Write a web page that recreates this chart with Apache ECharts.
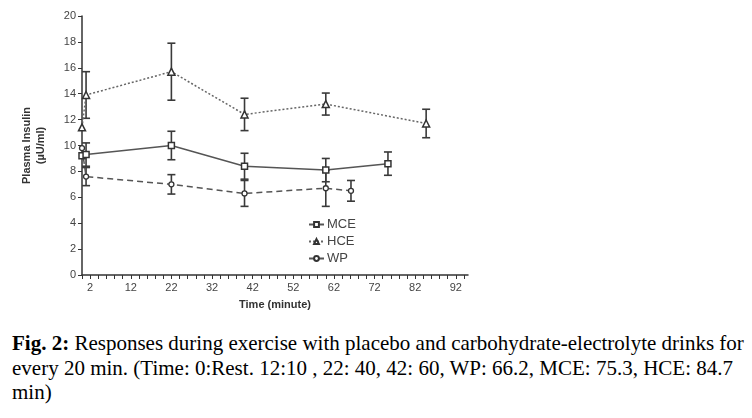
<!DOCTYPE html>
<html lang="en">
<head>
  <meta charset="UTF-8">
  <title>Plasma Insulin</title>
  <script src="https://cdn.jsdelivr.net/npm/echarts@6/dist/echarts.min.js"></script>
  <style>
    body { margin: 0; background: #fff; }
    #chart { position: absolute; left: 0; top: 0; width: 752px; height: 318px; }
    .caption {
      position: absolute; left: 12px; top: 331px; width: 740px;
      font-family: "Liberation Serif", serif; font-size: 21px; line-height: 24.5px; color: #000;
      white-space: nowrap;
    }
  </style>
</head>
<body>
  <div id="chart"></div>
  <div class="caption"><b>Fig. 2:</b> Responses during exercise with placebo and carbohydrate-electrolyte drinks for<br>every 20 min. (Time: 0:Rest. 12:10 , 22: 40, 42: 60, WP: 66.2, MCE: 75.3, HCE: 84.7<br>min)</div>

  <script>
    // values (x = minutes, y = µU/ml)
    const mceTime = [0, 1, 22, 40, 60, 75.3];
    const mceMean = [9.2, 9.3, 10.0, 8.4, 8.1, 8.6];
    const mceErr  = [0, 0.9, 1.1, 1.0, 0.9, 0.9];

    const hceTime = [0, 1, 22, 40, 60, 84.7];
    const hceMean = [11.4, 13.9, 15.7, 12.4, 13.2, 11.7];
    const hceErr  = [0, 1.8, 2.2, 1.25, 0.85, 1.1];

    const wpTime = [0, 1, 22, 40, 60, 66.2];
    const wpMean = [9.8, 7.6, 7.0, 6.3, 6.7, 6.5];
    const wpErr  = [0, 0.7, 0.75, 1.0, 1.4, 0.8];

    const xLabels = [2, 12, 22, 32, 42, 52, 62, 72, 82, 92];
    const xTicks = [];
    for (let t = 0; t <= 94; t += 2) xTicks.push(t);

    const pairs = (xs, ys) => xs.map((x, i) => [x, ys[i]]);
    const errRows = (xs, ys, es) => xs.map((x, i) => [x, ys[i] - es[i], ys[i] + es[i]]).filter((r, i) => es[i] > 0);

    function errorBar(params, api) {
      const lo = api.coord([api.value(0), api.value(1)]);
      const hi = api.coord([api.value(0), api.value(2)]);
      const w = 4;
      const st = { stroke: '#3a3a3a', lineWidth: 1.6 };
      return {
        type: 'group',
        children: [
          { type: 'line', shape: { x1: lo[0], y1: lo[1], x2: hi[0], y2: hi[1] }, style: st },
          { type: 'line', shape: { x1: lo[0] - w, y1: lo[1], x2: lo[0] + w, y2: lo[1] }, style: st },
          { type: 'line', shape: { x1: hi[0] - w, y1: hi[1], x2: hi[0] + w, y2: hi[1] }, style: st }
        ]
      };
    }

    const chart = echarts.init(document.getElementById('chart'));
    const font = 'Liberation Sans, Arial, sans-serif';

    const option = {
      animation: false,
      textStyle: { fontFamily: font },
      grid: { left: 82, right: 284, top: 16, bottom: 43 },
      legend: {
        orient: 'vertical',
        left: 303, top: 213,
        itemWidth: 15, itemHeight: 6, itemGap: 4,
        textStyle: { fontSize: 13, color: '#444', fontFamily: font, padding: [0, 0, 0, -2] },
        data: ['MCE', 'HCE', 'WP']
      },
      xAxis: {
        type: 'value', min: 0, max: 95,
        name: 'Time (minute)', nameLocation: 'middle', nameGap: 24,
        nameTextStyle: { fontSize: 11, fontWeight: 'bold', color: '#333' },
        axisLine: { lineStyle: { color: '#333', width: 1.5 } },
        axisTick: { customValues: xTicks, length: 4, lineStyle: { color: '#333' } },
        axisLabel: { customValues: xLabels, fontSize: 11, color: '#444', margin: 7 },
        splitLine: { show: false }
      },
      yAxis: {
        type: 'value', min: 0, max: 20, interval: 2,
        name: 'Plasma Insulin\n(µU/ml)', nameLocation: 'middle', nameGap: 34,
        nameTextStyle: { fontSize: 11, fontWeight: 'bold', color: '#333', lineHeight: 14 },
        axisLine: { show: true, lineStyle: { color: '#333', width: 1.5 } },
        axisTick: { show: true, length: 4, lineStyle: { color: '#333' } },
        axisLabel: { fontSize: 11, color: '#444', margin: 6 },
        splitLine: { show: false }
      },
      series: [
        {
          name: 'MCE', type: 'line', data: pairs(mceTime, mceMean),
          symbol: 'rect', symbolSize: 6,
          lineStyle: { color: '#555', width: 1.5, type: 'solid' },
          itemStyle: { color: '#fff', borderColor: '#333', borderWidth: 1.5 },
          z: 3
        },
        {
          name: 'HCE', type: 'line', data: pairs(hceTime, hceMean),
          symbol: 'triangle', symbolSize: 7,
          lineStyle: { color: '#666', width: 1.5, type: [2, 2] },
          itemStyle: { color: '#fff', borderColor: '#333', borderWidth: 1.5 },
          z: 3
        },
        {
          name: 'WP', type: 'line', data: pairs(wpTime, wpMean),
          symbol: 'circle', symbolSize: 5,
          lineStyle: { color: '#555', width: 1.5, type: [6, 4] },
          itemStyle: { color: '#fff', borderColor: '#333', borderWidth: 1.3 },
          z: 3
        },
        { type: 'custom', renderItem: errorBar, data: errRows(mceTime, mceMean, mceErr), z: 2 },
        { type: 'custom', renderItem: errorBar, data: errRows(hceTime, hceMean, hceErr), z: 2 },
        { type: 'custom', renderItem: errorBar, data: errRows(wpTime, wpMean, wpErr), z: 2 }
      ]
    };

    chart.setOption(option);
  </script>
</body>
</html>
